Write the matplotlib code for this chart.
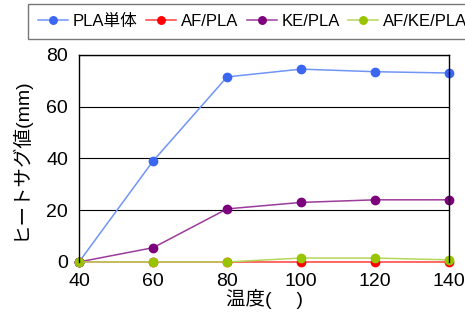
import matplotlib
matplotlib.use("Agg")
import matplotlib.pyplot as plt

plt.rcParams['font.family'] = ['Liberation Sans', 'Noto Sans CJK JP', 'DejaVu Sans']

temps = [40, 60, 80, 100, 120, 140]
pla = [0, 39, 71.5, 74.5, 73.5, 73]
af_pla = [0, 0, 0, 0, 0, 0]
ke_pla = [0, 5.5, 20.5, 23, 24, 24]
af_ke_pla = [0, 0, 0, 1.5, 1.5, 0.8]

series = [
    ('PLA単体', pla, '#6f95f5', '#3a66f0'),
    ('AF/PLA', af_pla, '#ff4040', '#ff0000'),
    ('KE/PLA', ke_pla, '#9b3b9b', '#7d007d'),
    ('AF/KE/PLA', af_ke_pla, '#b5d65a', '#99c400'),
]

fig = plt.figure(figsize=(4.65, 3.21), dpi=100)
ax = fig.add_axes([0.170, 0.184, 0.796, 0.645])

for name, vals, lc, mc in series:
    ax.plot(temps, vals, color=lc, linewidth=1.1, marker='o', markersize=6,
            markerfacecolor=mc, markeredgecolor=mc, label=name, clip_on=False)

ax.set_xlim(40, 140)
ax.set_ylim(0, 80)
ax.set_xticks(temps)
ax.set_yticks([0, 20, 40, 60, 80])
ax.yaxis.grid(True, color='black', linewidth=0.8)
ax.set_axisbelow(True)
ax.tick_params(length=0, labelsize=14, pad=8)
for sp in ax.spines.values():
    sp.set_color('black')
    sp.set_linewidth(1.0)
ax.spines['bottom'].set_visible(False)

ax.set_xlabel('温度(　 )', fontsize=14, labelpad=-1)
ax.set_ylabel('ヒートサグ値(mm)', fontsize=14, labelpad=12)

leg = fig.legend(loc='upper left', bbox_to_anchor=(0.06, 0.988), ncol=4,
                 fontsize=12, frameon=True, fancybox=False, handlelength=1.8,
                 handletextpad=0.3, columnspacing=0.5, borderpad=0.6,
                 borderaxespad=0, markerscale=0.9)
leg.get_frame().set_edgecolor('#555555')
leg.get_frame().set_linewidth(1.0)

fig.savefig('out.png', dpi=100)
